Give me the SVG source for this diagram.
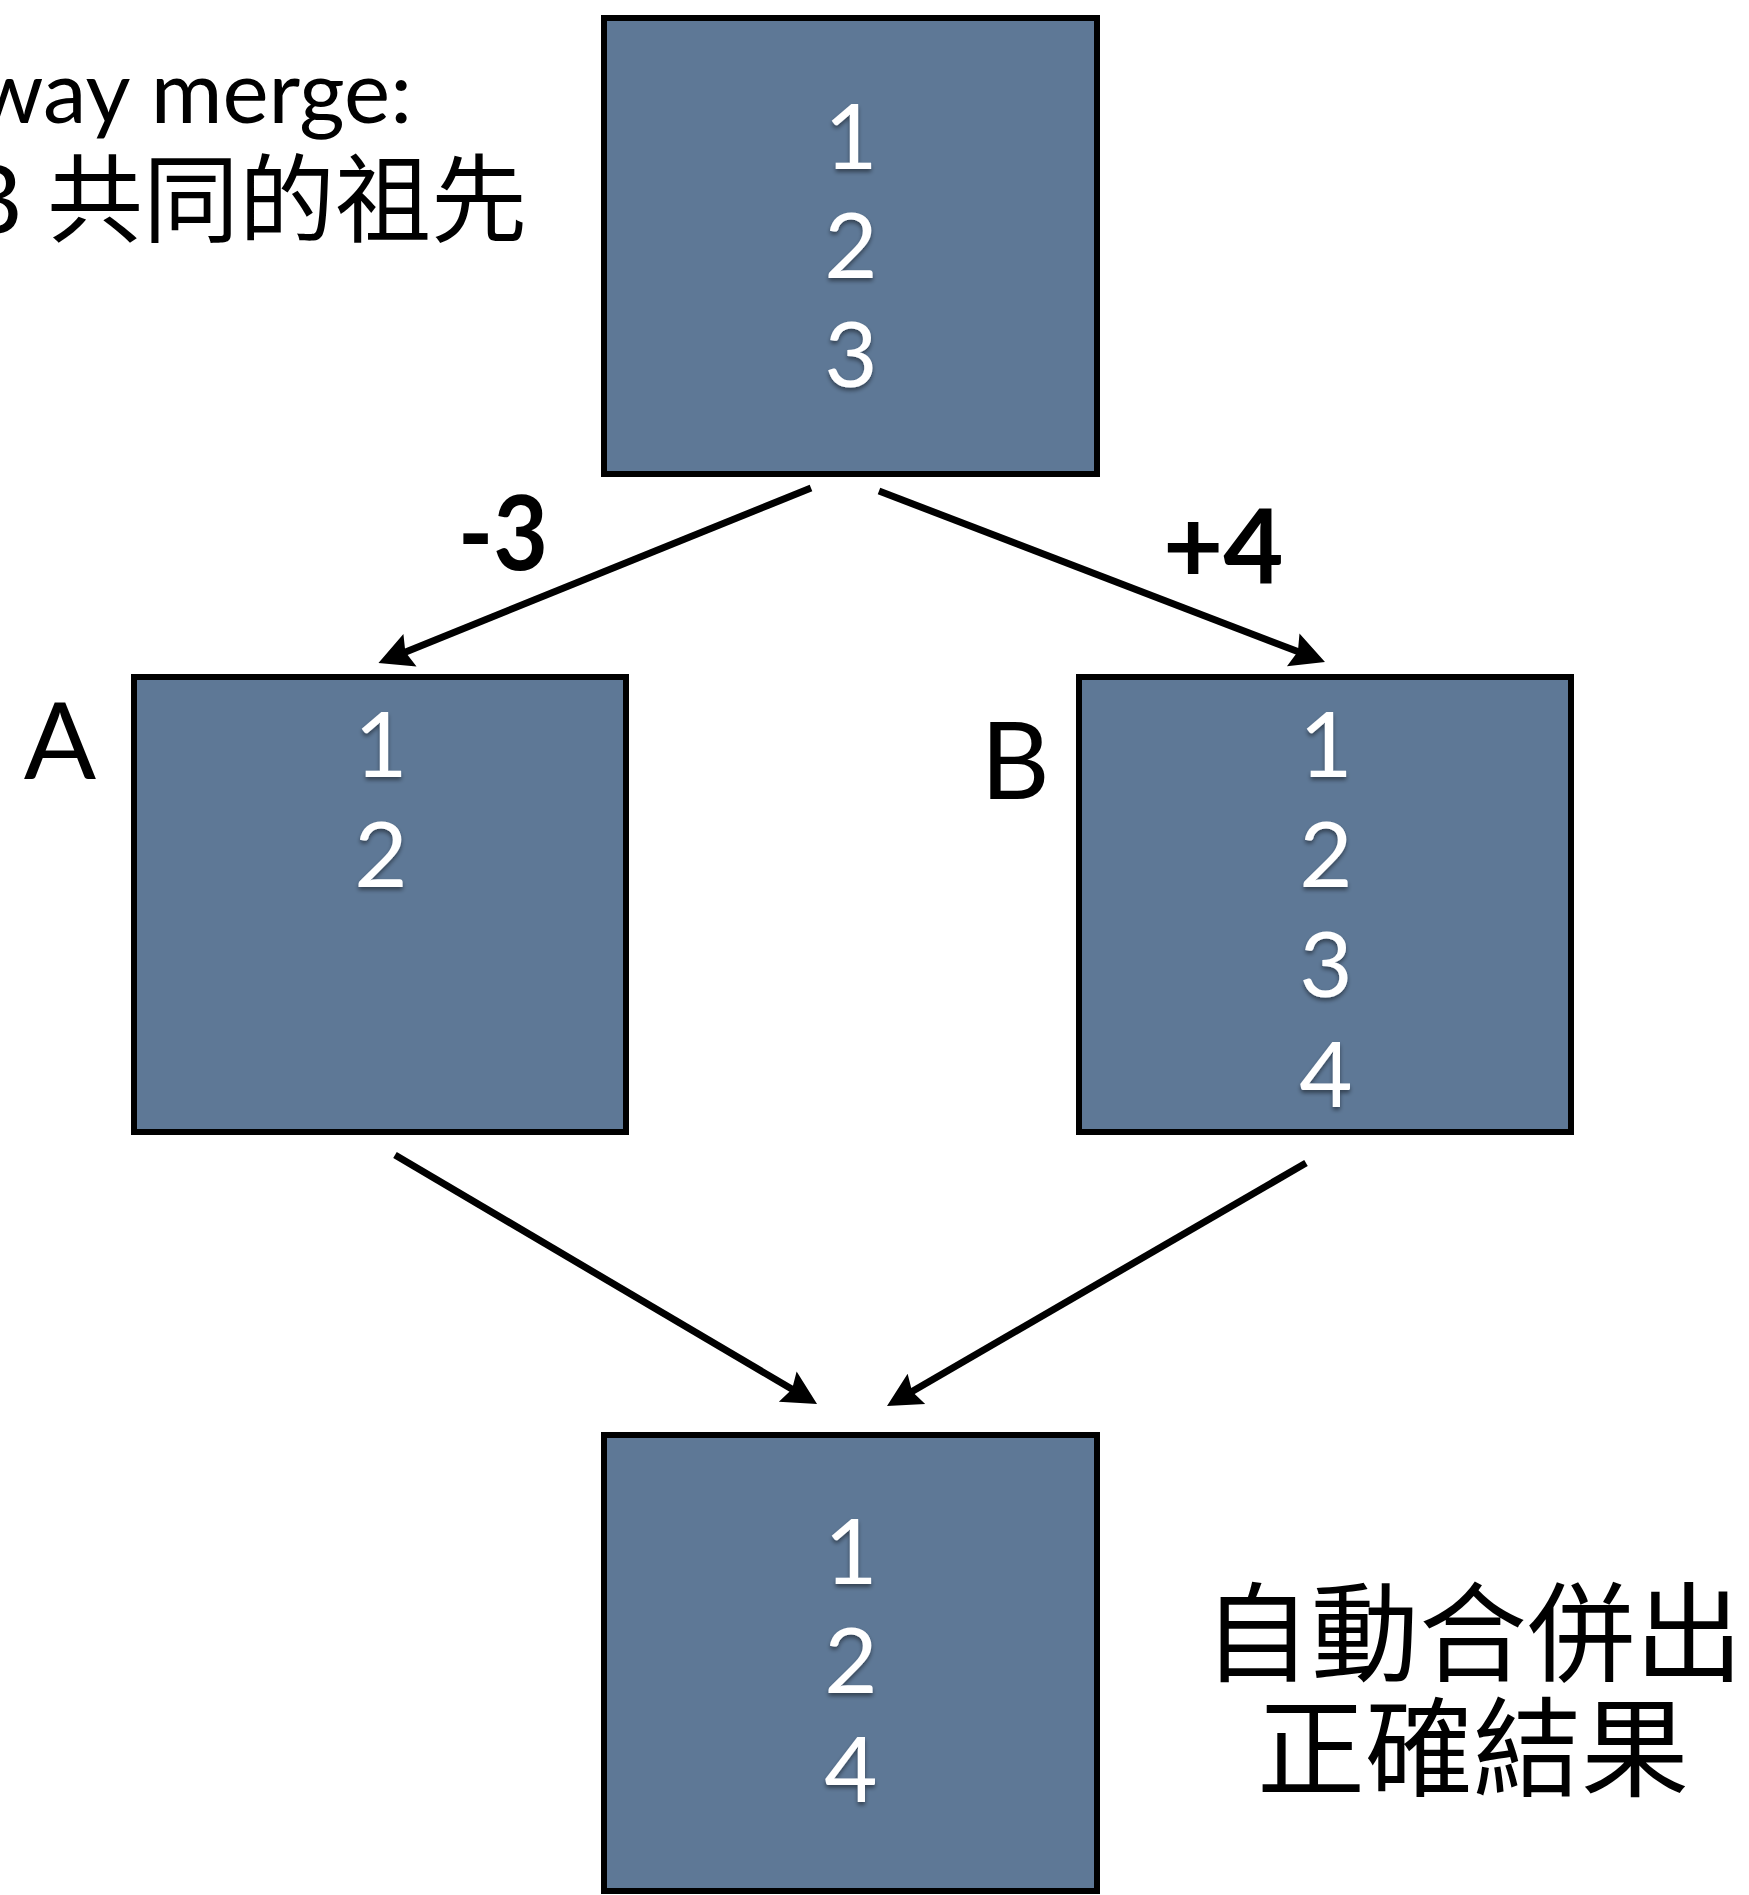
<svg xmlns="http://www.w3.org/2000/svg" width="1749" height="1895" viewBox="0 0 1749 1895">
  <defs>
    <style>
      .box { fill: #5e7896; stroke: #000; stroke-width: 6; }
      .num { font-family: "Lato", "Open Sans", sans-serif; font-size: 92px; fill: #ffffff; text-anchor: middle; filter: url(#sh); }
      .lbl { font-family: "Lato", "Open Sans", sans-serif; font-size: 107px; fill: #000; text-anchor: middle; }
      .delta { font-family: "Lato", "Open Sans", sans-serif; font-weight: bold; font-size: 104px; fill: #000; }
      .note { font-family: "Lato", "Noto Sans CJK TC", sans-serif; fill: #000; }
      .cjk { font-family: "Noto Sans CJK TC", sans-serif; font-size: 108px; fill: #000; text-anchor: middle; }
      .conn line { stroke: #000; stroke-width: 7; fill: none; marker-end: url(#ah); }
    </style>
    <filter id="sh" x="-20%" y="-20%" width="140%" height="150%">
      <feDropShadow dx="0" dy="3" stdDeviation="2" flood-color="#000" flood-opacity="0.45"/>
    </filter>
    <marker id="ah" markerUnits="userSpaceOnUse" orient="auto" refX="0" refY="0" markerWidth="60" markerHeight="40" overflow="visible">
      <path d="M20,0 L-14,-17.5 L-9,0 L-14,17.5 Z" fill="#000"/>
    </marker>
  </defs>

  <g id="note-top">
    <text class="note" x="-25" y="123" font-size="88" textLength="437" lengthAdjust="spacingAndGlyphs">way merge:</text>
    <text class="note" x="527" y="234" font-size="96" text-anchor="end">B 共同的祖先</text>
  </g>

  <g id="node-base">
    <rect class="box" x="604" y="18" width="493" height="456"/>
    <text class="num" x="851" y="169">1</text>
    <text class="num" x="851" y="278">2</text>
    <text class="num" x="851" y="387">3</text>
  </g>

  <g id="node-a">
    <rect class="box" x="134" y="677" width="492" height="455"/>
    <text class="num" x="381" y="777">1</text>
    <text class="num" x="381" y="887">2</text>
    <text class="lbl" x="60" y="779">A</text>
  </g>

  <g id="node-b">
    <rect class="box" x="1079" y="677" width="492" height="455"/>
    <text class="num" x="1326" y="777">1</text>
    <text class="num" x="1326" y="887">2</text>
    <text class="num" x="1326" y="997">3</text>
    <text class="num" x="1326" y="1107">4</text>
    <text class="lbl" x="1015" y="799">B</text>
  </g>

  <g id="node-merged">
    <rect class="box" x="604" y="1435" width="493" height="456"/>
    <text class="num" x="851" y="1584">1</text>
    <text class="num" x="851" y="1693">2</text>
    <text class="num" x="851" y="1802">4</text>
  </g>

  <g id="note-result">
    <text class="cjk" x="1473" y="1673">自動合併出</text>
    <text class="cjk" x="1473" y="1788">正確結果</text>
  </g>

  <g id="connectors" class="conn">
    <line x1="811" y1="488" x2="397" y2="655.5"/>
    <line x1="879" y1="491" x2="1306.3" y2="654.8"/>
    <line x1="395" y1="1155" x2="799.8" y2="1393.8"/>
    <line x1="1306" y1="1163" x2="904.3" y2="1396"/>
    <text class="delta" x="458" y="570" textLength="90" lengthAdjust="spacingAndGlyphs">-3</text>
    <text class="delta" x="1163" y="583">+4</text>
  </g>
</svg>
